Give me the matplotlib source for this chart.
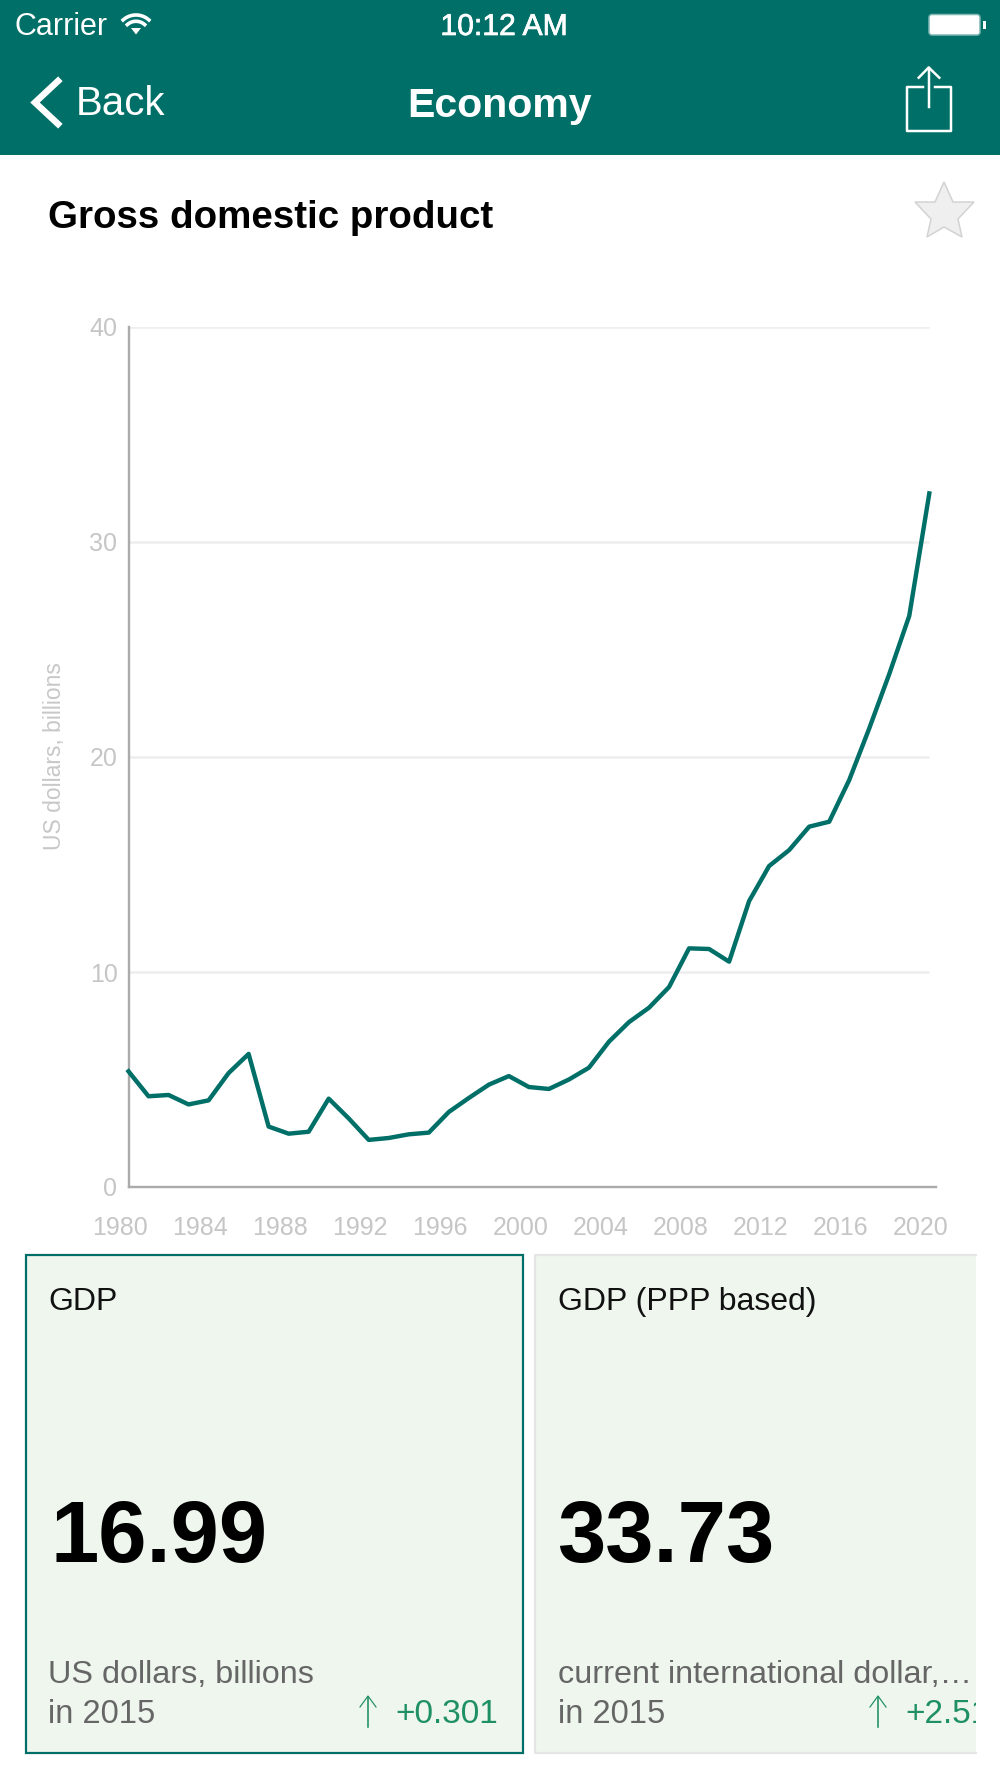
#!/usr/bin/env python3

import numpy as np
import matplotlib
matplotlib.use('Agg')
import matplotlib.pyplot as plt
import matplotlib.patheffects as pe
from matplotlib.patches import Rectangle, Polygon, FancyBboxPatch
from matplotlib.transforms import ScaledTranslation

plt.rcParams['font.family'] = ['Liberation Sans', 'DejaVu Sans']

# values
years = list(range(1980, 2021))
gdp = [5.38, 4.22, 4.28, 3.84, 4.03, 5.30, 6.19, 2.81, 2.48, 2.57,
       4.11, 3.19, 2.19, 2.28, 2.45, 2.53, 3.49, 4.14, 4.76, 5.16,
       4.65, 4.56, 5.00, 5.55, 6.76, 7.67, 8.34, 9.30, 11.10, 11.07,
       10.48, 13.30, 14.93, 15.67, 16.76, 16.99, 18.93, 21.33, 23.86, 26.57,
       32.26]
y_ticks = [0, 10, 20, 30, 40]
x_ticks = list(range(1980, 2021, 4))

card_titles = ['GDP', 'GDP (PPP based)']
card_values = ['16.99', '33.73']
card_units = ['US dollars, billions', 'current international dollar,\u2026']
card_years = ['in 2015', 'in 2015']
card_deltas = ['+0.301', '+2.51']

TEAL = '#006F67'
GREEN = '#1F9063'
CARD_BG = '#EEF6EE'
W, H = 1000, 1778

fig = plt.figure(figsize=(W / 100, H / 100), dpi=100, facecolor='white')

# screen furniture is placed in pixels on a full-figure axes
ui = fig.add_axes([0, 0, 1, 1])
ui.set_xlim(0, W)
ui.set_ylim(H, 0)
ui.axis('off')


def px(n):
    return n * 0.72


def ui_text(x, y, s, size, color='white', **kw):
    kw.setdefault('va', 'baseline')
    return ui.text(x, y, s, fontsize=size, color=color, **kw)


# header band
ui.add_patch(Rectangle((0, 0), W, 155, fc=TEAL, ec='none'))
ui_text(15, 35, 'Carrier', 22)
clock = ui_text(504, 35, '10:12 AM', 21.7, ha='center')
clock.set_path_effects([pe.withStroke(linewidth=0.5, foreground='white')])
ui_text(76, 115, 'Back', 29)
ui_text(500, 117, 'Economy', 29.5, ha='center', fontweight='bold')

# wifi
for r, a in [(19.3, 42), (13, 42)]:
    t = np.radians(np.linspace(-a, a, 30))
    ui.plot(136 + r * np.sin(t), 34.3 - r * np.cos(t), color='white', lw=px(3.6))
ui.add_patch(Polygon([(131, 28), (141, 28), (136, 34.5)], fc='white', ec='none'))

# battery
ui.add_patch(FancyBboxPatch(
    (929, 14.5), 51, 20.5, boxstyle='round,pad=0,rounding_size=3',
    fc='white', ec='#7FB7B3', lw=px(1.5)))
ui.add_patch(Rectangle((982.5, 21), 3, 8, fc='white', ec='none'))

# back chevron
ui.plot([58, 35, 58], [81, 102.5, 124], color='white', lw=px(6.5), solid_joinstyle='miter')

# share icon
ui.plot([922.7, 906.5, 906.5, 951, 951, 935], [86.5, 86.5, 130.5, 130.5, 86.5, 86.5],
        color='white', lw=px(2.5))
ui.plot([928.7, 928.7], [107, 68], color='white', lw=px(2.5))
ui.plot([918.7, 928.7, 939.3], [77.7, 67.5, 77.7], color='white', lw=px(2.5))

# title and favourite star
ui_text(48, 228, 'Gross domestic product', 27.7, color='black', fontweight='bold')
ui.add_patch(Polygon([(944, 182), (953, 202), (974, 202), (958, 219), (962, 237),
                      (944, 227), (927, 237), (931, 219), (915, 202), (935, 202)],
                     closed=True, fc='#EFEFEF', ec='#D2D2D2', lw=px(1.5)))

# cards
card_left = [26, 534.5]
card_right = [523, 976]
text_x = [48.5, 558]
value_x = [51, 557]
arrow_x = [368, 878]
for i in range(2):
    x0, x1 = card_left[i], card_right[i]
    bg = Rectangle((x0, 1255), x1 - x0, 498, fc=CARD_BG, ec='none')
    ui.add_patch(bg)
    if i == 0:
        ui.add_patch(Rectangle((x0, 1255), x1 - x0, 498, fc='none', ec=TEAL, lw=px(2.2)))
    else:
        ui.plot([x1, x0, x0, x1], [1255, 1255, 1753, 1753], color='#E4E6E4', lw=px(2.2))
    ui_text(text_x[i], 1310, card_titles[i], 23, color='#111111')
    ui_text(value_x[i], 1562, card_values[i], 62.5, color='black', fontweight='bold')
    ui_text(text_x[i], 1683, card_units[i], 23.3, color='#666666')
    ui_text(text_x[i], 1723, card_years[i], 23.5, color='#666666')
    ax0 = arrow_x[i]
    ui.plot([ax0, ax0], [1727, 1697], color=GREEN, lw=px(1.6))
    ui.plot([ax0 - 8, ax0, ax0 + 8], [1707, 1696, 1707], color=GREEN, lw=px(1.2))
    delta = ui_text(ax0 + 27, 1723, card_deltas[i], 24, color=GREEN)
    delta.set_clip_path(bg)
    delta.set_clip_on(True)

# the chart itself
left, right, top, bottom = 128.5, 936, 327, 1187
ax = fig.add_axes([left / W, 1 - bottom / H, (right - left) / W, (bottom - top) / H])
ax.patch.set_alpha(0)
ax.set_xlim(1980, 1980 + (right - left) / 20.02)
ax.set_ylim(0, 40)

ax.hlines(y_ticks[1:], 1980, 2020, color='#EEEEEE', lw=px(2.6), zorder=1)
ax.plot(years, gdp, color=TEAL, lw=px(4.4), zorder=3, clip_on=False)

for side in ['top', 'right']:
    ax.spines[side].set_visible(False)
for side in ['left', 'bottom']:
    ax.spines[side].set_color('#ABABAB')
    ax.spines[side].set_linewidth(px(2.4))

ax.set_yticks(y_ticks)
ax.set_xticks(x_ticks)
ax.tick_params(axis='both', length=0, labelsize=18, labelcolor='#C6C6C6')
ax.tick_params(axis='y', pad=px(11))
ax.tick_params(axis='x', pad=px(29))

# year labels sit a little left of their data position
shift = ScaledTranslation(-8.5 / 100, 0, fig.dpi_scale_trans)
for label in ax.get_xticklabels():
    label.set_transform(label.get_transform() + shift)

ui_text(55, 756, 'US dollars, billions', 16.5, color='#C8C8C8', rotation=90,
        ha='center', va='center')

fig.savefig('out.png', dpi=100)
